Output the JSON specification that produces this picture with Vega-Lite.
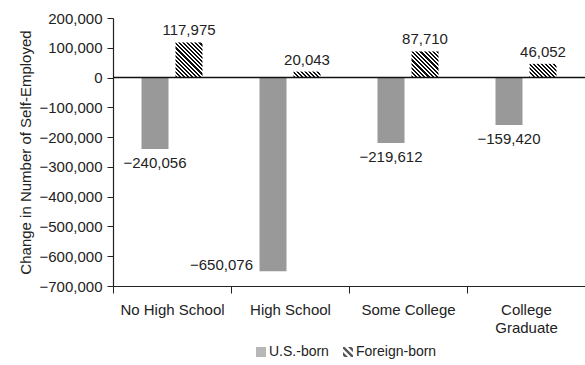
{
  "$schema": "https://vega.github.io/schema/vega-lite/v6.json",
  "width": 472,
  "height": 268,
  "autosize": "none",
  "padding": {"left": 113, "top": 18, "right": 0, "bottom": 79},
  "background": "white",
  "config": {
    "view": {"stroke": null},
    "font": "Liberation Sans",
    "axis": {"domainColor": "#222222", "tickColor": "#222222", "labelColor": "#222222", "titleColor": "#222222", "grid": false},
    "legend": {"title": null, "orient": "none", "legendX": 141, "legendY": 327, "padding": 0, "direction": "horizontal", "symbolSize": 100, "symbolStrokeWidth": 0,
               "labelFontSize": 14, "labelColor": "#222222", "columnPadding": 12, "labelOffset": 1}
  },
  "resolve": {"axis": {"x": "independent", "y": "independent"}},
  "data": {
    "values": [
      {"category": "No High School", "group": "U.S.-born", "value": -240056},
      {"category": "No High School", "group": "Foreign-born", "value": 117975},
      {"category": "High School", "group": "U.S.-born", "value": -650076},
      {"category": "High School", "group": "Foreign-born", "value": 20043},
      {"category": "Some College", "group": "U.S.-born", "value": -219612},
      {"category": "Some College", "group": "Foreign-born", "value": 87710},
      {"category": "College Graduate", "group": "U.S.-born", "value": -159420},
      {"category": "College Graduate", "group": "Foreign-born", "value": 46052}
    ]
  },
  "layer": [
    {
      "mark": {"type": "point", "filled": true, "size": 1, "strokeWidth": 0},
      "encoding": {
        "x": {"field": "category", "type": "nominal", "sort": ["No High School", "High School", "Some College", "College Graduate"], "axis": null},
        "xOffset": {"field": "group", "type": "nominal", "sort": ["U.S.-born", "Foreign-born"]},
        "y": {"datum": 0, "type": "quantitative", "axis": null},
        "color": {"field": "group", "type": "nominal", "scale": {"domain": ["U.S.-born", "Foreign-born"], "range": ["#999999", "#111111"]},
                  "legend": {"title": null, "orient": "none", "legendX": 141, "legendY": 327}},
        "shape": {"field": "group", "type": "nominal",
                  "scale": {"domain": ["U.S.-born", "Foreign-born"], "range": ["square", "M-1,-1L-0.65,-1L1,0.65L1,1L0.65,1L-1,-0.65Z M-1,0L0,1L-0.7,1L-1,0.7Z M0,-1L0.7,-1L1,-0.7L1,0Z"]},
                  "legend": {"title": null, "orient": "none", "legendX": 141, "legendY": 327}}
      }
    },
    {
      "mark": {"type": "bar"},
      "encoding": {
        "x": {
          "field": "category", "type": "nominal",
          "sort": ["No High School", "High School", "Some College", "College Graduate"],
          "scale": {"paddingInner": 0, "paddingOuter": 0},
          "axis": {"title": null, "labelAngle": 0, "labelFontSize": 15, "labelPadding": 9, "tickSize": 7, "tickBand": "extent", "labelLineHeight": 18, "domainWidth": 1.2,
                   "labelExpr": "datum.value === 'College Graduate' ? ['College', 'Graduate'] : datum.value"}
        },
        "xOffset": {"field": "group", "type": "nominal", "sort": ["U.S.-born", "Foreign-born"], "scale": {"paddingInner": 0.206, "paddingOuter": 0.838}},
        "y": {
          "field": "value", "type": "quantitative",
          "scale": {"domain": [-700000, 200000], "nice": false, "zero": false},
          "axis": {"title": "Change in Number of Self-Employed", "titleFontSize": 15, "titleFontWeight": "normal", "titlePadding": 6,
                   "tickCount": 10, "format": ",.0f", "labelFontSize": 15, "tickSize": 6, "labelPadding": 5, "domainWidth": 1.2, "labelOverlap": false}
        },
        "color": {
          "field": "group", "type": "nominal",
          "scale": {"domain": ["U.S.-born", "Foreign-born"], "range": ["#999999", "#111111"]},
          "legend": {"title": null, "orient": "none", "legendX": 141, "legendY": 327},
          "condition": [
            {"test": "datum.group === 'Foreign-born' && datum.category === 'No High School'",
             "value": {"gradient": "linear", "x1": 0, "y1": 1, "x2": 0.8545, "y2": -0.1119, "stops": [
              {"offset":0,"color":"#111111"},{"offset":0.0333,"color":"#111111"},{"offset":0.0333,"color":"#ffffff"},{"offset":0.0667,"color":"#ffffff"},{"offset":0.0667,"color":"#111111"},{"offset":0.1,"color":"#111111"},{"offset":0.1,"color":"#ffffff"},{"offset":0.1333,"color":"#ffffff"},{"offset":0.1333,"color":"#111111"},{"offset":0.1667,"color":"#111111"},{"offset":0.1667,"color":"#ffffff"},{"offset":0.2,"color":"#ffffff"},{"offset":0.2,"color":"#111111"},{"offset":0.2333,"color":"#111111"},{"offset":0.2333,"color":"#ffffff"},{"offset":0.2667,"color":"#ffffff"},{"offset":0.2667,"color":"#111111"},{"offset":0.3,"color":"#111111"},{"offset":0.3,"color":"#ffffff"},{"offset":0.3333,"color":"#ffffff"},{"offset":0.3333,"color":"#111111"},{"offset":0.3667,"color":"#111111"},{"offset":0.3667,"color":"#ffffff"},{"offset":0.4,"color":"#ffffff"},{"offset":0.4,"color":"#111111"},{"offset":0.4333,"color":"#111111"},{"offset":0.4333,"color":"#ffffff"},{"offset":0.4667,"color":"#ffffff"},{"offset":0.4667,"color":"#111111"},{"offset":0.5,"color":"#111111"},{"offset":0.5,"color":"#ffffff"},{"offset":0.5333,"color":"#ffffff"},{"offset":0.5333,"color":"#111111"},{"offset":0.5667,"color":"#111111"},{"offset":0.5667,"color":"#ffffff"},{"offset":0.6,"color":"#ffffff"},{"offset":0.6,"color":"#111111"},{"offset":0.6333,"color":"#111111"},{"offset":0.6333,"color":"#ffffff"},{"offset":0.6667,"color":"#ffffff"},{"offset":0.6667,"color":"#111111"},{"offset":0.7,"color":"#111111"},{"offset":0.7,"color":"#ffffff"},{"offset":0.7333,"color":"#ffffff"},{"offset":0.7333,"color":"#111111"},{"offset":0.7667,"color":"#111111"},{"offset":0.7667,"color":"#ffffff"},{"offset":0.8,"color":"#ffffff"},{"offset":0.8,"color":"#111111"},{"offset":0.8333,"color":"#111111"},{"offset":0.8333,"color":"#ffffff"},{"offset":0.8667,"color":"#ffffff"},{"offset":0.8667,"color":"#111111"},{"offset":0.9,"color":"#111111"},{"offset":0.9,"color":"#ffffff"},{"offset":0.9333,"color":"#ffffff"},{"offset":0.9333,"color":"#111111"},{"offset":0.9667,"color":"#111111"},{"offset":0.9667,"color":"#ffffff"},{"offset":1,"color":"#ffffff"}]}},
            {"test": "datum.group === 'Foreign-born' && datum.category === 'High School'",
             "value": {"gradient": "linear", "x1": 0, "y1": 1, "x2": 1.1643, "y2": 0.7426, "stops": [
              {"offset":0,"color":"#111111"},{"offset":0.0625,"color":"#111111"},{"offset":0.0625,"color":"#ffffff"},{"offset":0.125,"color":"#ffffff"},{"offset":0.125,"color":"#111111"},{"offset":0.1875,"color":"#111111"},{"offset":0.1875,"color":"#ffffff"},{"offset":0.25,"color":"#ffffff"},{"offset":0.25,"color":"#111111"},{"offset":0.3125,"color":"#111111"},{"offset":0.3125,"color":"#ffffff"},{"offset":0.375,"color":"#ffffff"},{"offset":0.375,"color":"#111111"},{"offset":0.4375,"color":"#111111"},{"offset":0.4375,"color":"#ffffff"},{"offset":0.5,"color":"#ffffff"},{"offset":0.5,"color":"#111111"},{"offset":0.5625,"color":"#111111"},{"offset":0.5625,"color":"#ffffff"},{"offset":0.625,"color":"#ffffff"},{"offset":0.625,"color":"#111111"},{"offset":0.6875,"color":"#111111"},{"offset":0.6875,"color":"#ffffff"},{"offset":0.75,"color":"#ffffff"},{"offset":0.75,"color":"#111111"},{"offset":0.8125,"color":"#111111"},{"offset":0.8125,"color":"#ffffff"},{"offset":0.875,"color":"#ffffff"},{"offset":0.875,"color":"#111111"},{"offset":0.9375,"color":"#111111"},{"offset":0.9375,"color":"#ffffff"},{"offset":1,"color":"#ffffff"}]}},
            {"test": "datum.group === 'Foreign-born' && datum.category === 'Some College'",
             "value": {"gradient": "linear", "x1": 0, "y1": 1, "x2": 1.0163, "y2": 0.0168, "stops": [
              {"offset":0,"color":"#111111"},{"offset":0.04,"color":"#111111"},{"offset":0.04,"color":"#ffffff"},{"offset":0.08,"color":"#ffffff"},{"offset":0.08,"color":"#111111"},{"offset":0.12,"color":"#111111"},{"offset":0.12,"color":"#ffffff"},{"offset":0.16,"color":"#ffffff"},{"offset":0.16,"color":"#111111"},{"offset":0.2,"color":"#111111"},{"offset":0.2,"color":"#ffffff"},{"offset":0.24,"color":"#ffffff"},{"offset":0.24,"color":"#111111"},{"offset":0.28,"color":"#111111"},{"offset":0.28,"color":"#ffffff"},{"offset":0.32,"color":"#ffffff"},{"offset":0.32,"color":"#111111"},{"offset":0.36,"color":"#111111"},{"offset":0.36,"color":"#ffffff"},{"offset":0.4,"color":"#ffffff"},{"offset":0.4,"color":"#111111"},{"offset":0.44,"color":"#111111"},{"offset":0.44,"color":"#ffffff"},{"offset":0.48,"color":"#ffffff"},{"offset":0.48,"color":"#111111"},{"offset":0.52,"color":"#111111"},{"offset":0.52,"color":"#ffffff"},{"offset":0.56,"color":"#ffffff"},{"offset":0.56,"color":"#111111"},{"offset":0.6,"color":"#111111"},{"offset":0.6,"color":"#ffffff"},{"offset":0.64,"color":"#ffffff"},{"offset":0.64,"color":"#111111"},{"offset":0.68,"color":"#111111"},{"offset":0.68,"color":"#ffffff"},{"offset":0.72,"color":"#ffffff"},{"offset":0.72,"color":"#111111"},{"offset":0.76,"color":"#111111"},{"offset":0.76,"color":"#ffffff"},{"offset":0.8,"color":"#ffffff"},{"offset":0.8,"color":"#111111"},{"offset":0.84,"color":"#111111"},{"offset":0.84,"color":"#ffffff"},{"offset":0.88,"color":"#ffffff"},{"offset":0.88,"color":"#111111"},{"offset":0.92,"color":"#111111"},{"offset":0.92,"color":"#ffffff"},{"offset":0.96,"color":"#ffffff"},{"offset":0.96,"color":"#111111"},{"offset":1,"color":"#111111"}]}},
            {"test": "datum.group === 'Foreign-born' && datum.category === 'College Graduate'",
             "value": {"gradient": "linear", "x1": 0, "y1": 1, "x2": 1.1987, "y2": 0.3913, "stops": [
              {"offset":0,"color":"#111111"},{"offset":0.05,"color":"#111111"},{"offset":0.05,"color":"#ffffff"},{"offset":0.1,"color":"#ffffff"},{"offset":0.1,"color":"#111111"},{"offset":0.15,"color":"#111111"},{"offset":0.15,"color":"#ffffff"},{"offset":0.2,"color":"#ffffff"},{"offset":0.2,"color":"#111111"},{"offset":0.25,"color":"#111111"},{"offset":0.25,"color":"#ffffff"},{"offset":0.3,"color":"#ffffff"},{"offset":0.3,"color":"#111111"},{"offset":0.35,"color":"#111111"},{"offset":0.35,"color":"#ffffff"},{"offset":0.4,"color":"#ffffff"},{"offset":0.4,"color":"#111111"},{"offset":0.45,"color":"#111111"},{"offset":0.45,"color":"#ffffff"},{"offset":0.5,"color":"#ffffff"},{"offset":0.5,"color":"#111111"},{"offset":0.55,"color":"#111111"},{"offset":0.55,"color":"#ffffff"},{"offset":0.6,"color":"#ffffff"},{"offset":0.6,"color":"#111111"},{"offset":0.65,"color":"#111111"},{"offset":0.65,"color":"#ffffff"},{"offset":0.7,"color":"#ffffff"},{"offset":0.7,"color":"#111111"},{"offset":0.75,"color":"#111111"},{"offset":0.75,"color":"#ffffff"},{"offset":0.8,"color":"#ffffff"},{"offset":0.8,"color":"#111111"},{"offset":0.85,"color":"#111111"},{"offset":0.85,"color":"#ffffff"},{"offset":0.9,"color":"#ffffff"},{"offset":0.9,"color":"#111111"},{"offset":0.95,"color":"#111111"},{"offset":0.95,"color":"#ffffff"},{"offset":1,"color":"#ffffff"}]}}
          ]
        }
      }
    },
    {
      "data": {"values": [{"zero": 0}]},
      "mark": {"type": "rule", "color": "#111111", "strokeWidth": 1.5},
      "encoding": {"y": {"field": "zero", "type": "quantitative", "axis": null}}
    },
    {
      "transform": [{"filter": "datum.value > 0"}],
      "mark": {"type": "text", "baseline": "middle", "dy": -12, "fontSize": 15, "color": "#222222"},
      "encoding": {
        "x": {"field": "category", "type": "nominal", "sort": ["No High School", "High School", "Some College", "College Graduate"], "axis": null},
        "xOffset": {"field": "group", "type": "nominal", "sort": ["U.S.-born", "Foreign-born"]},
        "y": {"field": "value", "type": "quantitative", "axis": null},
        "text": {"field": "value", "type": "quantitative", "format": ","}
      }
    },
    {
      "transform": [{"filter": "datum.value < 0 && datum.value > -600000"}],
      "mark": {"type": "text", "baseline": "middle", "dy": 14, "fontSize": 15, "color": "#222222"},
      "encoding": {
        "x": {"field": "category", "type": "nominal", "sort": ["No High School", "High School", "Some College", "College Graduate"], "axis": null},
        "xOffset": {"field": "group", "type": "nominal", "sort": ["U.S.-born", "Foreign-born"]},
        "y": {"field": "value", "type": "quantitative", "axis": null},
        "text": {"field": "value", "type": "quantitative", "format": ","}
      }
    },
    {
      "transform": [{"filter": "datum.value < -600000"}],
      "mark": {"type": "text", "baseline": "middle", "align": "right", "dx": -20, "dy": -6, "fontSize": 15, "color": "#222222"},
      "encoding": {
        "x": {"field": "category", "type": "nominal", "sort": ["No High School", "High School", "Some College", "College Graduate"], "axis": null},
        "xOffset": {"field": "group", "type": "nominal", "sort": ["U.S.-born", "Foreign-born"]},
        "y": {"field": "value", "type": "quantitative", "axis": null},
        "text": {"field": "value", "type": "quantitative", "format": ","}
      }
    }
  ]
}
